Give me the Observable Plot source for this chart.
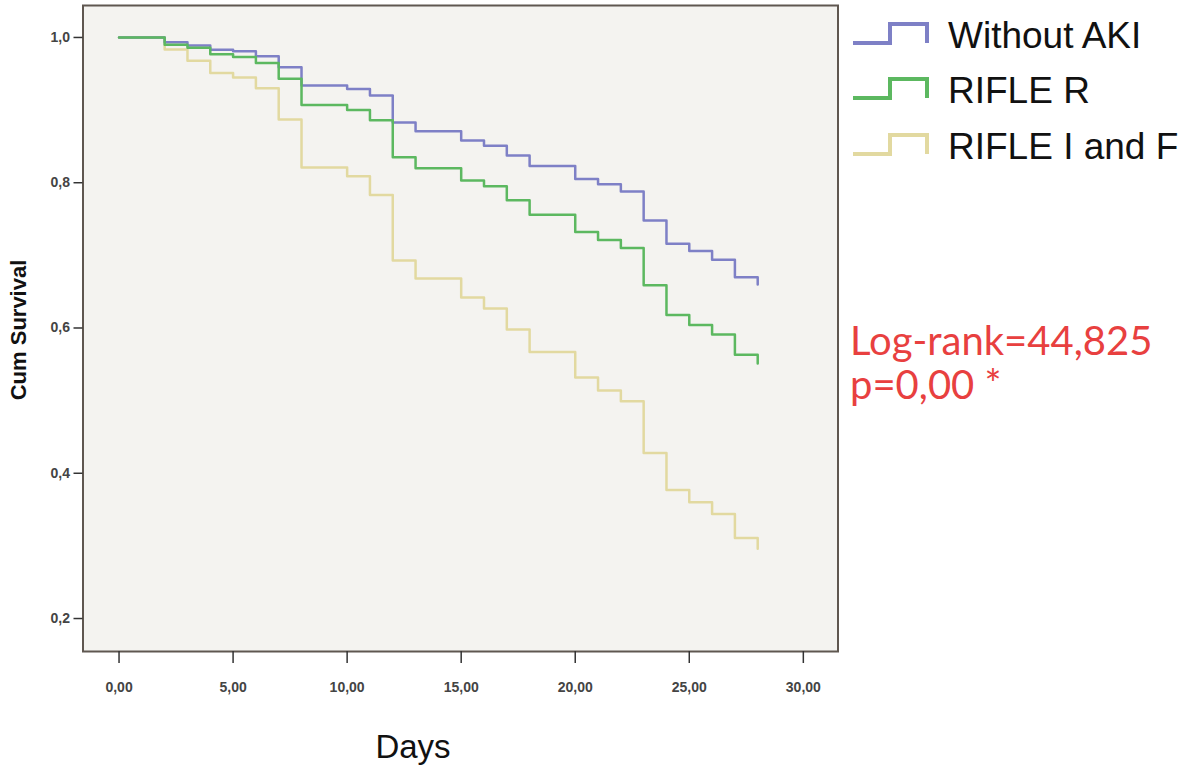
<!DOCTYPE html>
<html><head><meta charset="utf-8">
<script src="https://cdn.jsdelivr.net/npm/d3@7"></script>
<script src="https://cdn.jsdelivr.net/npm/@observablehq/plot@0.6"></script>
<style>body{margin:0;background:#fff;} svg{display:block}</style>
</head><body><div id="chart"></div>
<script>
// ---- data ----
const groups = ["Without AKI", "RIFLE R", "RIFLE I and F"];
const colors = ["#7e80c6", "#5cb860", "#e2d9a0"];
const days = [0, 2, 3, 4, 5, 6, 7, 8, 10, 11, 12, 13, 15, 16, 17, 18, 20, 21, 22, 23, 24, 25, 26, 27, 28];
const withoutAKI = [1.0, 0.9935, 0.989, 0.983, 0.981, 0.974, 0.959, 0.934, 0.929, 0.920, 0.883, 0.871, 0.858, 0.851, 0.8375, 0.823, 0.805, 0.798, 0.788, 0.748, 0.716, 0.706, 0.694, 0.670, 0.660];
const rifleR = [1.0, 0.990, 0.986, 0.977, 0.973, 0.965, 0.943, 0.907, 0.900, 0.886, 0.835, 0.820, 0.803, 0.795, 0.776, 0.756, 0.732, 0.721, 0.710, 0.659, 0.618, 0.604, 0.591, 0.563, 0.551];
const rifleIF = [1.0, 0.9835, 0.968, 0.951, 0.945, 0.930, 0.887, 0.821, 0.809, 0.783, 0.693, 0.668, 0.642, 0.627, 0.598, 0.567, 0.532, 0.514, 0.499, 0.428, 0.377, 0.360, 0.344, 0.311, 0.296];
const xTicks = [0, 5, 10, 15, 20, 25, 30];
const yTicks = [0.2, 0.4, 0.6, 0.8, 1.0];
const xLabel = "Days";
const yLabel = "Cum Survival";
const logRankText = "Log-rank=44,825";
const pText = "p=0,00 *";

// ---- build ----
const series = [withoutAKI, rifleR, rifleIF];
const data = series.flatMap((vals, gi) => days.map((d, i) => ({group: groups[gi], day: d, surv: vals[i]})));
const drawOrder = ["RIFLE I and F", "Without AKI", "RIFLE R"];
const comma = (f) => (v) => d3.format(f)(v).replace(".", ",");

const W = 1200, H = 774;
const mL = 82.5, mR = 362.5, mT = 5, mB = 123;

const chart = Plot.plot({
  width: W, height: H,
  marginLeft: mL, marginRight: mR, marginTop: mT, marginBottom: mB,
  style: {fontFamily: "'Liberation Sans', Arial, sans-serif", fontSize: "14px", color: "#333", background: "white"},
  x: {domain: [-1.58, 31.52]},
  y: {domain: [0.1546, 1.044]},
  color: {domain: groups, range: colors},
  marks: [
    Plot.frame({fill: "#f4f3f0"}),
    ...drawOrder.map(g => Plot.line(data.filter(d => d.group === g), {
      x: "day", y: "surv", stroke: "group", curve: "step-after", strokeWidth: 2.5
    })),
    Plot.frame({stroke: "#5f5750", strokeWidth: 2}),
    Plot.axisX({ticks: xTicks, tickFormat: comma(".2f"), tickSize: 12, tickPadding: 19, label: null, stroke: "#333", strokeWidth: 1.5, fill: "#444", fontSize: 14, fontWeight: "bold"}),
    Plot.axisY({ticks: yTicks, tickFormat: comma(".1f"), tickSize: 9, tickPadding: 4, label: null, stroke: "#333", strokeWidth: 1.5, fill: "#444", fontSize: 14, fontWeight: "bold"})
  ]
});

const svg = d3.select(chart);
// axis titles
svg.append("text").attr("transform", "translate(26,330) rotate(-90)")
  .attr("text-anchor", "middle").attr("font-weight", "bold").attr("font-size", 22)
  .attr("fill", "#111").text(yLabel);
svg.append("text").attr("x", 413).attr("y", 758).attr("text-anchor", "middle")
  .attr("font-size", 33).attr("fill", "#111").text(xLabel);

// legend
const legY = [35, 90, 146];
groups.forEach((g, i) => {
  const cy = legY[i];
  svg.append("path")
    .attr("d", `M853,${cy + 8}H890V${cy - 11}H927V${cy + 8}`)
    .attr("fill", "none").attr("stroke", colors[i]).attr("stroke-width", 4);
  svg.append("text").attr("x", 948).attr("y", cy + 13).attr("text-anchor", "start")
    .attr("font-size", 37).attr("fill", "#111").text(g);
});

// annotation
svg.append("text").attr("x", 850).attr("y", 355).attr("text-anchor", "start")
  .attr("font-family", "Lato, 'Open Sans', sans-serif").attr("font-size", 40)
  .attr("fill", "#e8403f").text(logRankText);
svg.append("text").attr("x", 850).attr("y", 399).attr("text-anchor", "start")
  .attr("font-family", "Lato, 'Open Sans', sans-serif").attr("font-size", 40)
  .attr("fill", "#e8403f").text(pText);

document.getElementById("chart").appendChild(chart);
</script>
</body></html>
